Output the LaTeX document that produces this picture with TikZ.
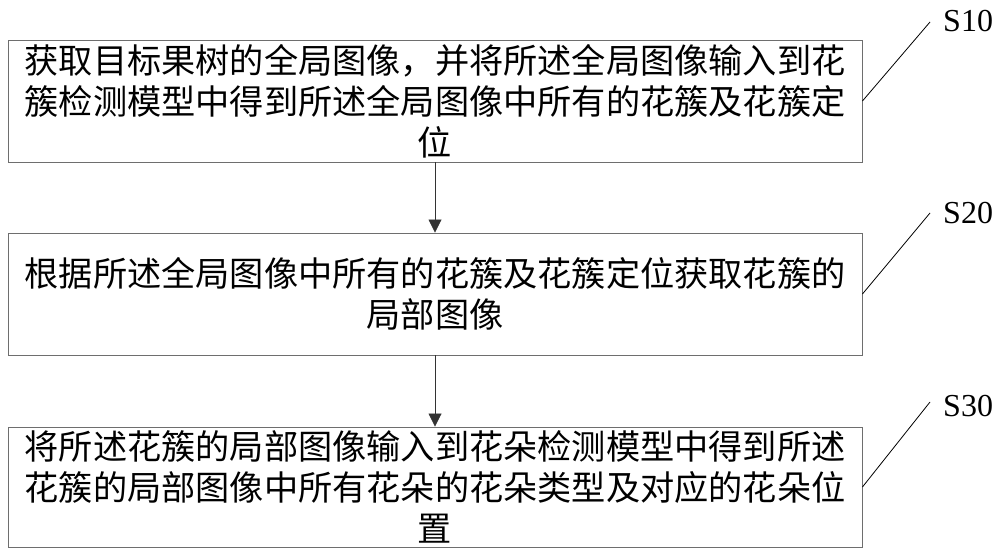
\documentclass[tikz,border=0pt]{standalone}
\usepackage{fontspec}
\setmainfont{Liberation Serif}
\newfontfamily\cjk{Noto Sans CJK SC}
\usetikzlibrary{arrows.meta}
\definecolor{boxline}{RGB}{110,110,110}
\tikzset{
  stepbox/.style={draw=boxline, line width=0.9pt, minimum width=854pt, minimum height=122pt,
    inner sep=0pt, align=center, font=\cjk\fontsize{34.2pt}{41pt}\selectfont},
  arr/.style={draw=black!80, line width=0.8pt, -{Triangle[width=13pt,length=13pt]}},
  lead/.style={draw=black, line width=0.8pt},
  steplabel/.style={font=\fontsize{32pt}{36pt}\selectfont, inner sep=0pt, anchor=west}
}
\begin{document}
\begin{tikzpicture}[x=1pt,y=-1pt]
\useasboundingbox (0,0) rectangle (1000,556);
\node[stepbox] (b1) at (435,101) {获取目标果树的全局图像，并将所述全局图像输入到花\\簇检测模型中得到所述全局图像中所有的花簇及花簇定\\位};
\node[stepbox] (b2) at (435,294) {根据所述全局图像中所有的花簇及花簇定位获取花簇的\\局部图像};
\node[stepbox, minimum height=120pt] (b3) at (435,487) {将所述花簇的局部图像输入到花朵检测模型中得到所述\\花簇的局部图像中所有花朵的花朵类型及对应的花朵位\\置};
\draw[arr] (b1.south) -- (b2.north);
\draw[arr] (b2.south) -- (b3.north);
\coordinate (t1) at (930,22);
\coordinate (t2) at (930,213);
\coordinate (t3) at (930,402);
\draw[lead] (b1.east) -- (t1);
\draw[lead] (b2.east) -- (t2);
\draw[lead] (b3.east) -- (t3);
\node[steplabel] (s1) at (943,21) {S10};
\node[steplabel] (s2) at (943,213) {S20};
\node[steplabel] (s3) at (943,406) {S30};
\end{tikzpicture}
\end{document}
